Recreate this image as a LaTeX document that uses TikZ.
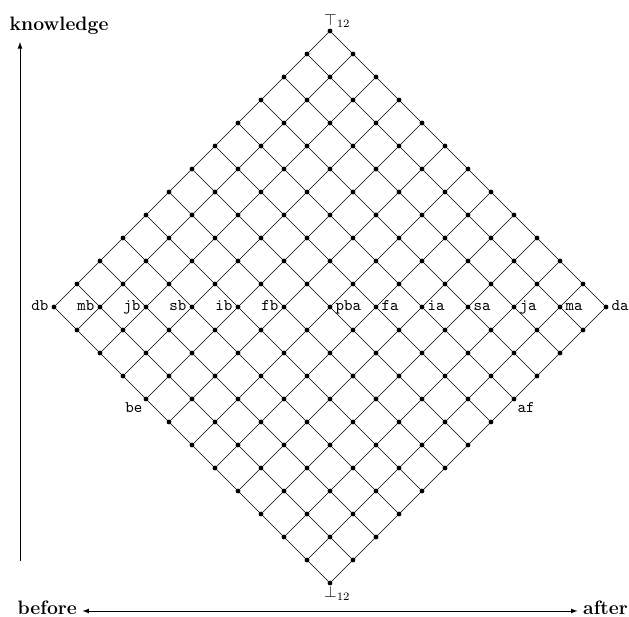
\documentclass[tikz,border=0pt]{standalone}
\usetikzlibrary{positioning}

\begin{document}
\begin{tikzpicture}[x=0.5cm,y=0.5cm,
  pt/.style={circle,fill=black,inner sep=0pt,minimum size=3pt},
  rel/.style={font=\ttfamily},
  axislabel/.style={font=\large\bfseries}]
  \useasboundingbox (-14.348,-1.478) rectangle (13.0,25.348);

  % Lattice points, (a,b) sits at (a-b, a+b)
  \foreach \a in {0,...,12} {
    \foreach \b in {0,...,12} {
      \node[pt] (p-\a-\b) at ({\a-\b},{\a+\b}) {};
    }
  }

  % The two families of diagonals
  \foreach \k in {0,...,12} {
    \draw (p-\k-0) -- (p-\k-12);
    \draw (p-0-\k) -- (p-12-\k);
  }

  % Top and bottom
  \node[anchor=south west,xshift=-5.8pt,inner sep=2pt] (top) at (p-12-12) {$\top_{12}$};
  \node[anchor=north west,xshift=-5.8pt,inner sep=2pt] (bot) at (p-0-0) {$\bot_{12}$};

  % Relations along the middle row
  \foreach \a/\b/\t in {0/12/db, 1/11/mb, 2/10/jb, 3/9/sb, 4/8/ib, 5/7/fb} {
    \node[rel,anchor=mid east] (l-\t) at (p-\a-\b) {\t};
  }
  \foreach \a/\b/\t in {6/6/pba, 7/5/fa, 8/4/ia, 9/3/sa, 10/2/ja, 11/1/ma, 12/0/da} {
    \node[rel,anchor=mid west] (l-\t) at (p-\a-\b) {\t};
  }
  \node[rel,below left,inner sep=2pt] (l-be) at (p-0-8) {be};
  \node[rel,below right,inner sep=2pt] (l-af) at (p-8-0) {af};

  % Axes
  \coordinate (k-from) at (-13.478,0.96);
  \coordinate (k-to) at (-13.478,23.52);
  \draw[-latex] (k-from) -- (k-to);
  \node[axislabel] (knowledge) at (-11.78,24.24) {knowledge};

  \coordinate (t-left) at (-10.76,-1.217);
  \coordinate (t-right) at (10.76,-1.217);
  \draw[latex-latex] (t-left) -- (t-right);
  \node[axislabel,anchor=mid east] (before) at (t-left) {before};
  \node[axislabel,anchor=mid west] (after) at (t-right) {after};
\end{tikzpicture}
\end{document}
